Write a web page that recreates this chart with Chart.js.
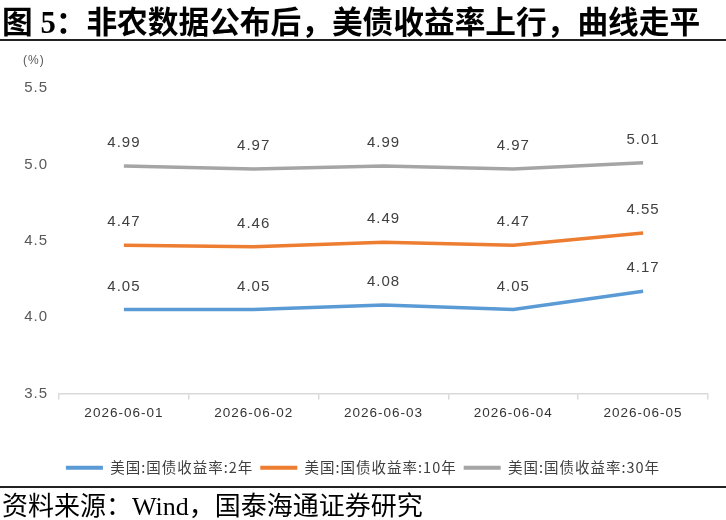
<!DOCTYPE html>
<html>
<head>
<meta charset="utf-8">
<script src="https://cdn.jsdelivr.net/npm/chart.js@4/dist/chart.umd.min.js"></script>
<style>
  body { margin: 0; background: #fff; }
  #wrap { position: relative; width: 726px; height: 520px; overflow: hidden; }
  #title {
    position: absolute; left: 2px; top: -3px; white-space: nowrap;
    font: 700 30.7px "Liberation Serif", "Noto Sans CJK SC", serif; color: #000;
  }
  #title .cjk { font-family: "Noto Sans CJK SC", sans-serif; }
  #rule1 { position: absolute; left: 0; top: 39px; width: 726px; height: 2px; background: #222; }
  #rule2 { position: absolute; left: 0; top: 486px; width: 726px; height: 2px; background: #222; }
  #source {
    position: absolute; left: 2px; top: 485px; white-space: nowrap;
    font: 400 26px "Noto Sans CJK SC", sans-serif; color: #000;
  }
  #source .lat { font-family: "Liberation Serif", serif; }
  #unit { position: absolute; left: 23px; top: 53px; font: 12px "Liberation Sans", sans-serif; color: #595959; letter-spacing: 1px; }
  #chartBox { position: absolute; left: 0; top: 0; width: 726px; height: 486px; }
</style>
</head>
<body>
<div id="wrap">
  <div id="chartBox"><canvas id="chart"></canvas></div>
  <div id="title"><span class="cjk">图</span> 5<span class="cjk">：非农数据公布后，美债收益率上行，曲线走平</span></div>
  <div id="rule1"></div>
  <div id="unit">(%)</div>
  <div id="rule2"></div>
  <div id="source">资料来源：<span class="lat">Wind</span>，国泰海通证券研究</div>
</div>
<script>
// dates on the x axis
const dates = ['2026-06-01', '2026-06-02', '2026-06-03', '2026-06-04', '2026-06-05'];

// yields, %
const y2 = [4.05, 4.05, 4.08, 4.05, 4.17];
const y10 = [4.47, 4.46, 4.49, 4.47, 4.55];
const y30 = [4.99, 4.97, 4.99, 4.97, 5.01];

const seriesNames = ['美国:国债收益率:2年', '美国:国债收益率:10年', '美国:国债收益率:30年'];
const seriesColors = ['#5B9BD5', '#ED7D31', '#A5A5A5'];

const yTicks = [3.5, 4.0, 4.5, 5.0, 5.5];

// draws the value above each point
const valueLabels = {
    id: 'valueLabels',
    afterDatasetsDraw(chart) {
        const ctx = chart.ctx;
        ctx.save();
        ctx.font = '15px "Liberation Sans", sans-serif';
        ctx.fillStyle = '#404040';
        ctx.textAlign = 'center';
        ctx.textBaseline = 'middle';
        chart.data.datasets.forEach((ds, i) => {
            chart.getDatasetMeta(i).data.forEach((pt, j) => {
                ctx.fillText(ds.data[j].toFixed(2), pt.x, pt.y - 23);
            });
        });
        ctx.restore();
    }
};

// canvas resets its state on resize, so set the spacing again each time
const spacing = {
    id: 'spacing',
    beforeUpdate(chart) { chart.ctx.letterSpacing = '1px'; },
    beforeDraw(chart) { chart.ctx.letterSpacing = '1px'; },
    // legend sits centred on the whole page, not on the padded box
    afterLayout(chart) {
        chart.legend.left += 9;
        chart.legend.right += 9;
    }
};

new Chart(document.getElementById('chart'), {
    type: 'line',
    data: {
        labels: dates,
        datasets: [y2, y10, y30].map((d, i) => ({
            label: seriesNames[i],
            data: d,
            borderColor: seriesColors[i],
            backgroundColor: seriesColors[i],
            borderWidth: 3.5,
            pointRadius: 0,
            tension: 0
        }))
    },
    options: {
        responsive: true,
        maintainAspectRatio: false,
        animation: false,
        layout: { padding: { top: 88, right: 18, bottom: 1, left: 0 } },
        plugins: {
            tooltip: { enabled: false },
            legend: {
                position: 'bottom',
                labels: {
                    usePointStyle: true,
                    pointStyle: 'line',
                    pointStyleWidth: 37,
                    boxHeight: 4,
                    padding: 7,
                    color: '#404040',
                    font: { size: 14.5, family: '"Noto Sans CJK SC", sans-serif' },
                    generateLabels(chart) {
                        return Chart.defaults.plugins.legend.labels.generateLabels(chart).map(it => {
                            it.lineWidth = 4;
                            return it;
                        });
                    }
                }
            }
        },
        scales: {
            x: {
                offset: true,
                grid: { offset: true, drawOnChartArea: false, tickLength: 6, color: '#d9d9d9', lineWidth: 1.5 },
                border: { color: '#d9d9d9', width: 1.5 },
                ticks: { color: '#333333', padding: 6, font: { size: 13.5, family: '"Liberation Sans", sans-serif' } },
                afterFit(scale) { scale.height = 60; }
            },
            y: {
                min: 3.5,
                max: 5.5,
                afterBuildTicks(scale) { scale.ticks = yTicks.map(v => ({ value: v })); },
                grid: { display: false, tickLength: 0 },
                border: { display: false },
                ticks: {
                    color: '#595959',
                    padding: 11,
                    font: { size: 15, family: '"Liberation Sans", sans-serif' },
                    callback: v => v.toFixed(1)
                },
                afterFit(scale) { scale.width = 59; }
            }
        }
    },
    plugins: [valueLabels, spacing]
});
</script>
</body>
</html>
